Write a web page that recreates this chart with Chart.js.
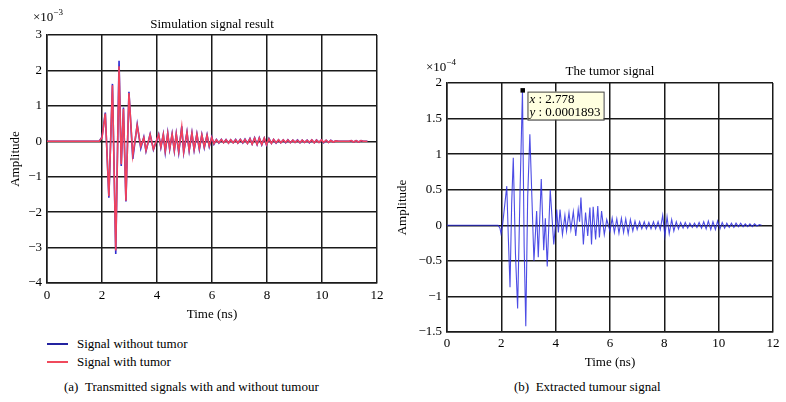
<!DOCTYPE html>
<html lang="en">
<head>
<meta charset="UTF-8">
<title>Simulation signal result / The tumor signal</title>
<script src="https://cdn.jsdelivr.net/npm/chart.js"></script>
<style>
  body { margin: 0; background: #fff; }
  #wrap {
    position: relative; width: 786px; height: 402px; overflow: hidden;
    font-family: "Liberation Serif", "DejaVu Serif", serif; font-size: 13px; color: #000;
  }
  canvas { position: absolute; top: 0; }
  #chartA { left: 0; }
  #chartB { left: 392px; }
  .txt { position: absolute; white-space: nowrap; line-height: 16px; }
  .txt sup { font-size: 9px; line-height: 0; vertical-align: 6px; }
  .key { position: absolute; width: 21px; height: 1.6px; }
</style>
</head>
<body>
<div id="wrap">
  <canvas id="chartA" width="392" height="325"></canvas>
  <canvas id="chartB" width="394" height="372"></canvas>

  <div class="txt" style="left:33px; top:9px">&times;10<sup>&minus;3</sup></div>
  <div class="txt" style="left:426px; top:59px">&times;10<sup>&minus;4</sup></div>

  <span class="key" style="left:47px; top:343px; background:#2323a0"></span>
  <div class="txt" style="left:77px; top:336px">Signal without tumor</div>
  <span class="key" style="left:47px; top:361px; background:#f04a5c"></span>
  <div class="txt" style="left:77px; top:354px">Signal with tumor</div>

  <div class="txt" style="left:64px; top:379px">(a)&nbsp;&nbsp;Transmitted signals with and without tumour</div>
  <div class="txt" style="left:514px; top:379px">(b)&nbsp;&nbsp;Extracted tumour signal</div>
</div>

<script>
// (a) amplitude in units of 1e-3, time in ns
const timeA = [
  0, 1.9, 2.0, 2.12, 2.25, 2.38, 2.5, 2.62, 2.7, 2.78,
  2.87, 2.98, 3.12, 3.28, 3.41, 3.52, 3.6, 3.75, 3.87, 4.06,
  4.14, 4.23, 4.3, 4.39, 4.46, 4.55, 4.63, 4.7, 4.79, 4.9,
  4.97, 5.09, 5.17, 5.27, 5.35, 5.45, 5.54, 5.63, 5.72, 5.82,
  5.9, 5.99, 6.07, 6.16, 6.25, 6.34, 6.42, 6.51, 6.6, 6.68,
  6.77, 6.86, 6.94, 7.03, 7.12, 7.2, 7.29, 7.38, 7.46, 7.55,
  7.64, 7.72, 7.81, 7.9, 7.98, 8.07, 8.16, 8.24, 8.33, 8.42,
  8.5, 8.59, 8.68, 8.76, 8.85, 8.94, 9.02, 9.11, 9.2, 9.28,
  9.37, 9.46, 9.54, 9.63, 9.72, 9.8, 9.89, 9.98, 10.06, 10.15,
  10.24, 10.32, 10.41, 10.5, 10.6, 11.0, 11.06, 11.15, 11.24, 11.33,
  11.42, 11.5, 11.65
];
const noTumor = [
  0, 0, 0.12, 0.81, -1.59, 1.62, -3.18, 2.27, -0.7, 0.95,
  -1.7, 1.4, -0.5, 0.48, -0.2, 0.12, -0.28, 0.2, -0.24, 0.2,
  -0.18, 0.2, -0.31, 0.24, -0.23, 0.21, -0.27, 0.21, -0.32, 0.42,
  -0.32, 0.26, -0.27, 0.24, -0.25, 0.21, -0.23, 0.19, -0.18, 0.18,
  -0.15, 0.12, -0.08, 0.05, -0.05, 0.05, -0.04, 0.05, -0.05, 0.04,
  -0.04, 0.05, -0.05, 0.05, -0.05, 0.06, -0.06, 0.08, -0.08, 0.1,
  -0.09, 0.1, -0.1, 0.09, -0.1, 0.08, -0.06, 0.05, -0.05, 0.04,
  -0.04, 0.04, -0.04, 0.04, -0.04, 0.03, -0.03, 0.04, -0.04, 0.03,
  -0.03, 0.03, -0.04, 0.04, -0.04, 0.04, -0.03, 0.04, -0.04, 0.03,
  -0.03, 0.03, -0.02, 0.01, 0, 0, 0.02, -0.02, 0.02, -0.02,
  0.02, 0, 0
];
const withTumor = [
  0, 0, 0.1, 0.78, -1.55, 1.58, -3.08, 2.12, -0.65, 0.92,
  -1.68, 1.36, -0.4, 0.45, -0.15, 0.1, -0.26, 0.19, -0.22, 0.19,
  -0.16, 0.19, -0.27, 0.22, -0.21, 0.2, -0.25, 0.2, -0.29, 0.4,
  -0.3, 0.25, -0.25, 0.23, -0.23, 0.2, -0.21, 0.18, -0.16, 0.17,
  -0.13, 0.11, -0.07, 0.04, -0.04, 0.05, -0.04, 0.04, -0.05, 0.04,
  -0.04, 0.04, -0.05, 0.05, -0.04, 0.05, -0.06, 0.07, -0.08, 0.09,
  -0.09, 0.09, -0.09, 0.09, -0.09, 0.07, -0.06, 0.05, -0.04, 0.04,
  -0.04, 0.04, -0.03, 0.04, -0.04, 0.03, -0.03, 0.03, -0.04, 0.03,
  -0.03, 0.03, -0.03, 0.04, -0.04, 0.03, -0.03, 0.04, -0.03, 0.03,
  -0.03, 0.02, -0.02, 0.01, 0, 0, 0.02, -0.02, 0.02, -0.02,
  0.02, 0, 0
];

// (b) amplitude in units of 1e-4
const timeB = [
  0, 1.88, 1.95, 1.99, 2.05, 2.2, 2.26, 2.32, 2.38, 2.44, 2.52, 2.6, 2.69, 2.778,
  2.84, 2.9, 2.97, 3.05, 3.2, 3.3, 3.36, 3.47, 3.56, 3.62, 3.69, 3.8, 3.93,
  4.04, 4.1, 4.16, 4.25, 4.34, 4.4, 4.49, 4.56, 4.65, 4.74,
  4.83, 4.88, 4.93, 5.02, 5.1, 5.18, 5.26, 5.32, 5.38, 5.47,
  5.55, 5.61, 5.69, 5.79, 5.88, 6.0, 6.08, 6.16, 6.25, 6.33,
  6.42, 6.5, 6.58, 6.67, 6.75, 6.84, 6.92, 7.0, 7.09, 7.17,
  7.26, 7.34, 7.43, 7.51, 7.6, 7.68, 7.77, 7.85, 7.94, 8.02,
  8.1, 8.18, 8.27, 8.35, 8.44, 8.52, 8.6, 8.69, 8.77, 8.86,
  8.94, 9.03, 9.11, 9.2, 9.28, 9.37, 9.45, 9.54, 9.62, 9.71,
  9.79, 9.88, 9.96, 10.05, 10.13, 10.22, 10.3, 10.39, 10.47, 10.56,
  10.64, 10.73, 10.81, 10.9, 10.98, 11.07, 11.15, 11.24, 11.32, 11.41,
  11.5, 11.58
];
const tumorSignal = [
  0, 0, -0.04, -0.12, 0.02, 0.55, -0.2, -0.87, 0.3, 0.95, -0.4, -1.17, 0.5, 1.893,
  -0.3, -1.42, 0.4, 1.28, -0.5, 0.2, -0.45, 0.65, -0.35, 0.1, -0.58, 0.5, -0.27,
  0.22, -0.1, 0.22, -0.13, 0.14, -0.08, 0.18, -0.06, 0.19, -0.15,
  0.22, 0.05, 0.39, -0.27, 0.18, -0.15, 0.25, -0.27, 0.26, -0.2,
  0.27, -0.17, 0.2, -0.13, 0.08, -0.08, 0.1, -0.1, 0.09, -0.11,
  0.1, -0.1, 0.09, -0.12, 0.08, -0.08, 0.06, -0.06, 0.05, -0.05,
  0.05, -0.05, 0.04, -0.05, 0.05, -0.05, 0.05, -0.06, 0.14, -0.15,
  0.12, -0.12, 0.08, -0.08, 0.05, -0.05, 0.04, -0.04, 0.04, -0.04,
  0.03, -0.03, 0.03, -0.03, 0.04, -0.04, 0.05, -0.05, 0.06, -0.06,
  0.05, -0.06, 0.06, -0.05, 0.04, -0.04, 0.03, -0.03, 0.03, -0.03,
  0.03, -0.02, 0.03, -0.02, 0.02, -0.02, 0.02, -0.02, 0.02, -0.01,
  0.01, 0
];

// data tip shown on the extracted signal
const tipX = 2.778;
const tipY = 1.893;

const FONT = '"Liberation Serif", "DejaVu Serif", serif';
Chart.defaults.font.family = FONT;
Chart.defaults.font.size = 13;
Chart.defaults.color = '#000';

const pts = (t, v) => t.map((x, i) => ({ x, y: v[i] }));
const minus = v => String(Math.round(v * 10) / 10).replace('-', '\u2212');
const gridStyle = { color: '#1a1a1a', lineWidth: 1.5, drawTicks: false };

function axes(o) {
  return {
    x: {
      type: 'linear', min: 0, max: 12,
      ticks: { stepSize: 2, padding: o.xPad, callback: minus, maxRotation: 0 },
      grid: gridStyle,
      border: { color: '#1a1a1a', width: 1.5 },
      title: { display: true, text: 'Time (ns)', padding: { top: 0, bottom: o.xTitlePad } },
      afterFit: s => { s.height = o.xH; }
    },
    y: {
      min: o.yMin, max: o.yMax,
      ticks: { stepSize: o.yStep, padding: 5, callback: minus },
      grid: gridStyle,
      border: { color: '#1a1a1a', width: 1.5 },
      title: { display: true, text: 'Amplitude', padding: { top: o.yTitlePad, bottom: 0 } },
      afterFit: s => { s.width = o.yW; }
    }
  };
}

// centre the chart title over the plot area instead of the whole canvas
const titleOverPlot = {
  id: 'titleOverPlot',
  afterLayout(chart) {
    const tb = chart.titleBlock;
    if (!tb) return;
    tb.left = chart.chartArea.left;
    tb.right = chart.chartArea.right;
    tb.width = tb.right - tb.left;
  }
};

const dataTip = {
  id: 'dataTip',
  afterDatasetsDraw(chart) {
    const { ctx, scales } = chart;
    const px = scales.x.getPixelForValue(tipX);
    const py = scales.y.getPixelForValue(tipY);
    ctx.save();
    ctx.fillStyle = '#000';
    ctx.fillRect(px - 2, py - 2.5, 4.5, 4.5);

    const rows = [['x', ' : ' + tipX], ['y', ' : ' + (tipY * 1e-4).toFixed(7)]];
    const it = 'italic 13px ' + FONT, rm = '13px ' + FONT;
    let w = 0;
    rows.forEach(r => {
      ctx.font = it; const a = ctx.measureText(r[0]).width;
      ctx.font = rm; const b = ctx.measureText(r[1]).width;
      w = Math.max(w, a + b);
    });
    const bx = px + 5, by = py + 1, bw = w + 5, bh = 28;
    ctx.fillStyle = '#ffffe0';
    ctx.fillRect(bx, by, bw, bh);
    ctx.strokeStyle = '#444';
    ctx.lineWidth = 1;
    ctx.strokeRect(bx + 0.5, by + 0.5, bw, bh);
    ctx.fillStyle = '#000';
    ctx.textBaseline = 'middle';
    rows.forEach((r, i) => {
      const ty = by + 8 + i * 13;
      ctx.font = it; ctx.fillText(r[0], bx + 2, ty);
      const a = ctx.measureText(r[0]).width;
      ctx.font = rm; ctx.fillText(r[1], bx + 2 + a, ty);
    });
    ctx.restore();
  }
};

new Chart(document.getElementById('chartA'), {
  type: 'line',
  data: {
    datasets: [
      { label: 'Signal without tumor', data: pts(timeA, noTumor), borderColor: '#2e2ed2', borderWidth: 1.6, order: 1 },
      { label: 'Signal with tumor', data: pts(timeA, withTumor), borderColor: '#f2425c', borderWidth: 1.6, order: 0 }
    ]
  },
  options: {
    responsive: false, animation: false, devicePixelRatio: 1,
    elements: { point: { radius: 0 }, line: { tension: 0 } },
    layout: { padding: { top: 17, left: 0, right: 15, bottom: 0 } },
    plugins: {
      legend: { display: false },
      tooltip: { enabled: false },
      title: { display: true, text: 'Simulation signal result', font: { size: 13, weight: 'normal' }, padding: { top: 0, bottom: 2.4 } }
    },
    scales: axes({ xPad: 5, xTitlePad: 3, xH: 42, yMin: -4, yMax: 3, yStep: 1, yTitlePad: 8, yW: 47 })
  },
  plugins: [titleOverPlot]
});

new Chart(document.getElementById('chartB'), {
  type: 'line',
  data: {
    datasets: [
      { label: 'Tumor signal', data: pts(timeB, tumorSignal), borderColor: 'rgba(45,45,225,0.85)', borderWidth: 1.1 }
    ]
  },
  options: {
    responsive: false, animation: false, devicePixelRatio: 1,
    elements: { point: { radius: 0 }, line: { tension: 0 } },
    layout: { padding: { top: 64, left: 0, right: 13, bottom: 0 } },
    plugins: {
      legend: { display: false },
      tooltip: { enabled: false },
      title: { display: true, text: 'The tumor signal', font: { size: 13, weight: 'normal' }, padding: { top: 0, bottom: 3.4 } }
    },
    scales: axes({ xPad: 4, xTitlePad: 2, xH: 40, yMin: -1.5, yMax: 2, yStep: 0.5, yTitlePad: 3, yW: 55 })
  },
  plugins: [titleOverPlot, dataTip]
});
</script>
</body>
</html>
